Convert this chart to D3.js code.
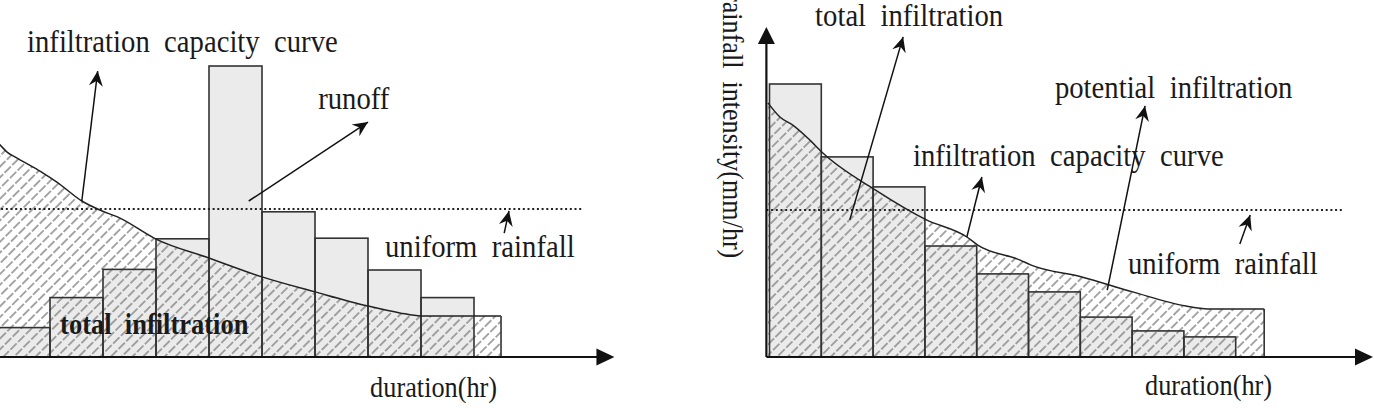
<!DOCTYPE html>
<html><head><meta charset="utf-8">
<script src="https://cdn.jsdelivr.net/npm/d3@7"></script>
<style>html,body{margin:0;padding:0;background:#fff;overflow:hidden}</style>
</head><body><div id="chart"></div>
<script>
// ---------- data (hours / mm per hr) ----------
const barStartL = [0,1,2,3,4,5,6,7,8];
const rainL = [9.8,19.8,29.2,39.4,97,48.4,39.6,29,19.8];
const barStartR = [0,1,2,3,4,5,6,7,8];
const rainR = [91,66.7,56.7,37,27.7,21.7,13.3,8.7,6.7];

const curveL_t = [0,0.057,0.19,0.38,0.68,0.87,1.13,1.6,1.94,2.32,3.0,4.0,5.0,6.0,7.0,7.6,8.0,9.0,9.51];
const curveL_v = [71.7,70.7,68.3,66.3,63.3,61.3,58.3,52,49,46.3,39.3,33,26.7,21.7,17,14.7,13.7,13.7,13.7];
const curveR_t = [-0.03,0.2,0.45,0.78,1.03,2.04,3.03,3.81,4.02,4.84,5.04,6.03,7.01,8.04,8.54,9.55];
const curveR_v = [84.7,80,77.3,72.3,68,55.7,45.7,40,37.3,32.3,30.7,26.7,21.7,17,16,16];

const uniformL = 49.3, uniformR = 49;
const xAxisEnd = 11.65, yAxisTop = 110;

const labelsL = [
  {t:"infiltration  capacity  curve", h:0.566, v:101.7, fs:28.7, w:"normal"},
  {t:"runoff", h:6.06, v:82.7, fs:28.7, w:"normal"},
  {t:"uniform  rainfall", h:7.32, v:33.3, fs:28.7, w:"normal"},
  {t:"total  infiltration", h:1.19, v:7.7, fs:26.5, w:"bold"},
  {t:"duration(hr)", h:7.04, v:-13.3, fs:26.3, w:"normal"}
];
const labelsR = [
  {t:"total  infiltration", h:0.88, v:110.2, fs:28.7, w:"normal"},
  {t:"potential  infiltration", h:5.51, v:86.3, fs:28.7, w:"normal"},
  {t:"infiltration  capacity  curve", h:2.77, v:63.7, fs:28.7, w:"normal"},
  {t:"uniform  rainfall", h:6.92, v:27.7, fs:28.7, w:"normal"},
  {t:"duration(hr)", h:7.25, v:-12.7, fs:26.3, w:"normal"}
];
const yLabelR = {t:"rainfall  intensity(mm/hr)", h:-0.9, v:121.3, fs:26.1};

const arrowsL = [
  {h1:1.6, v1:52, h2:1.9, v2:95.3},
  {h1:4.75, v1:52, h2:7.0, v2:78.3},
  {h1:9.57, v1:41.3, h2:9.66, v2:48.7}
];
const arrowsR = [
  {h1:1.55, v1:45.7, h2:2.58, v2:106.7},
  {h1:3.81, v1:40, h2:4.1, v2:60},
  {h1:6.52, v1:22.3, h2:7.25, v2:83.7},
  {h1:9.08, v1:37.7, h2:9.28, v2:47.3}
];

// ---------- drawing ----------
const W = 1374, H = 408;
const svg = d3.select("#chart").append("svg").attr("width", W).attr("height", H);
const defs = svg.append("defs");
const pat = defs.append("pattern").attr("id","hatch").attr("patternUnits","userSpaceOnUse")
  .attr("width",7.6).attr("height",11).attr("patternTransform","rotate(45)");
pat.append("line").attr("x1",3.8).attr("x2",3.8).attr("y1",0).attr("y2",11)
  .attr("stroke","#8a8a8a").attr("stroke-width",1.5).attr("stroke-dasharray","9,2");
defs.append("marker").attr("id","ah").attr("markerUnits","userSpaceOnUse")
  .attr("viewBox","-16 -9 17 18").attr("markerWidth",17).attr("markerHeight",18)
  .attr("refX",0).attr("refY",0).attr("orient","auto")
  .append("path").attr("d","M0,0L-15,-7L-10,0L-15,7Z").attr("fill","#111");

const y = d3.scaleLinear().domain([0,100]).range([357,57]);

function panel(opt){
  const x = d3.scaleLinear().domain([0,1]).range([opt.x0, opt.x0+opt.unit]);
  const g = svg.append("g");
  // bars fill
  g.selectAll("rect.bf").data(opt.bars).enter().append("rect")
    .attr("x",d=>x(d.s)).attr("width",x(d=>0)||0).attr("width",d=>x(d.s+1)-x(d.s))
    .attr("y",d=>y(d.v)).attr("height",d=>y(0)-y(d.v))
    .attr("fill","#ebebeb").attr("stroke","none");
  // hatch area
  const pts = opt.ct.map((t,i)=>[t,opt.cv[i]]);
  const area = d3.area().x(d=>x(d[0])).y0(y(0)).y1(d=>y(d[1])).curve(d3.curveMonotoneX);
  g.append("path").attr("d",area(pts)).attr("fill","url(#hatch)");
  // bar outlines
  g.selectAll("rect.bo").data(opt.bars).enter().append("rect")
    .attr("x",d=>x(d.s)).attr("width",d=>x(d.s+1)-x(d.s))
    .attr("y",d=>y(d.v)).attr("height",d=>y(0)-y(d.v))
    .attr("fill","none").attr("stroke","#333").attr("stroke-width",1.6);
  // curve
  const line = d3.line().x(d=>x(d[0])).y(d=>y(d[1])).curve(d3.curveMonotoneX);
  g.append("path").attr("d",line(pts)).attr("fill","none").attr("stroke","#222").attr("stroke-width",1.5);
  const last = pts[pts.length-1];
  g.append("line").attr("x1",x(last[0])).attr("x2",x(last[0])).attr("y1",y(last[1])).attr("y2",y(0))
    .attr("stroke","#333").attr("stroke-width",1.6);
  // uniform rainfall dotted
  g.append("line").attr("x1",x(opt.dotStart)).attr("x2",x(opt.dotEnd)).attr("y1",y(opt.uni)).attr("y2",y(opt.uni))
    .attr("stroke","#222").attr("stroke-width",2).attr("stroke-dasharray","2,2.7");
  // x axis
  const axStart = opt.axisH;
  g.append("line").attr("x1",x(axStart)).attr("x2",x(xAxisEnd)-14).attr("y1",y(0)).attr("y2",y(0))
    .attr("stroke","#111").attr("stroke-width",2.2);
  g.append("path").attr("d",`M${x(xAxisEnd)},${y(0)}L${x(xAxisEnd)-18},${y(0)-8.5}L${x(xAxisEnd)-18},${y(0)+8.5}Z`).attr("fill","#111");
  if (opt.yAxis){
    const ax = x(axStart);
    g.append("line").attr("x1",ax).attr("x2",ax).attr("y1",y(0)).attr("y2",y(yAxisTop)+14)
      .attr("stroke","#111").attr("stroke-width",2.2);
    g.append("path").attr("d",`M${ax},${y(yAxisTop)}L${ax-8.5},${y(yAxisTop)+17}L${ax+8.5},${y(yAxisTop)+17}Z`).attr("fill","#111");
    const yl = opt.yLabel;
    g.append("text").attr("transform",`translate(${x(yl.h)},${y(yl.v)}) rotate(90) scale(1,1.12)`)
      .attr("xml:space","preserve").style("white-space","pre")
      .attr("font-family","'Liberation Serif','Times New Roman',serif").attr("font-size",yl.fs)
      .attr("fill","#1a1a1a").text(yl.t);
  }
  // arrows
  g.selectAll("line.ar").data(opt.arrows).enter().append("line")
    .attr("x1",d=>x(d.h1)).attr("y1",d=>y(d.v1)).attr("x2",d=>x(d.h2)).attr("y2",d=>y(d.v2))
    .attr("stroke","#111").attr("stroke-width",1.5).attr("marker-end","url(#ah)");
  // labels
  g.selectAll("text.lb").data(opt.labels).enter().append("text")
    .attr("transform",d=>`translate(${x(d.h)},${y(d.v)}) scale(1,1.12)`)
    .attr("xml:space","preserve").style("white-space","pre")
    .attr("font-family","'Liberation Serif','Times New Roman',serif")
    .attr("font-size",d=>d.fs).attr("font-weight",d=>d.w)
    .attr("fill","#1a1a1a").text(d=>d.t);
}

panel({x0:-3, unit:53, bars:barStartL.map((s,i)=>({s, v:rainL[i]})), ct:curveL_t, cv:curveL_v,
  uni:uniformL, dotStart:-0.1, dotEnd:11.06, axisH:-0.1, yAxis:false, arrows:arrowsL, labels:labelsL});
panel({x0:769.5, unit:51.8, bars:barStartR.map((s,i)=>({s, v:rainR[i]})), ct:curveR_t, cv:curveR_v,
  uni:uniformR, dotStart:-0.06, dotEnd:11.1, axisH:-0.06, yAxis:true, yLabel:yLabelR, arrows:arrowsR, labels:labelsR});
</script></body></html>
